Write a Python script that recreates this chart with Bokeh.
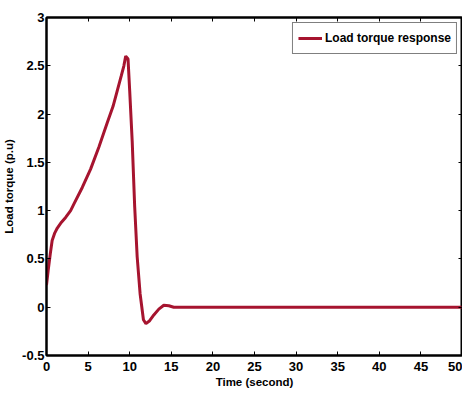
from bokeh.plotting import figure
from bokeh.models import FixedTicker, LinearAxis, Range1d, Legend, LegendItem
from bokeh.embed import file_html
from bokeh.resources import INLINE

# --- data ---
time_s = [0.0, 0.2, 0.45, 0.68, 1.0, 1.3, 1.8, 2.3, 2.9, 3.3, 4.3, 5.3, 6.3, 7.3, 8.0, 8.5,
          9.0, 9.3, 9.52, 9.8, 10.0, 10.3, 10.6, 10.9, 11.25, 11.65, 11.95, 12.4, 12.9,
          13.5, 14.1, 14.7, 15.3, 20.0, 30.0, 40.0, 50.0]
load_torque = [0.23, 0.38, 0.55, 0.69, 0.77, 0.82, 0.88, 0.93, 1.00, 1.07, 1.24, 1.43, 1.66,
               1.91, 2.08, 2.24, 2.40, 2.50, 2.60, 2.57, 2.24, 1.72, 1.04, 0.52, 0.14, -0.13,
               -0.17, -0.14, -0.08, -0.02, 0.02, 0.015, 0.0, 0.0, 0.0, 0.0, 0.0]
x_ticks = [0, 5, 10, 15, 20, 25, 30, 35, 40, 45, 50]
x_tick_labels = ["0", "5", "10", "15", "20", "25", "30", "35", "40", "45", "50"]
y_ticks = [-0.5, 0, 0.5, 1, 1.5, 2, 2.5, 3]
y_tick_labels = ["-0.5", "0", "0.5", "1", "1.5", "2", "2.5", "3"]
series_name = "Load torque response"
x_title = "Time (second)"
y_title = "Load torque (p.u)"

FONT = "Liberation Sans"
LINE_COLOR = "#A6142F"

p = figure(width=462, height=394, output_backend="svg", toolbar_location=None,
           x_range=Range1d(0, 50), y_range=Range1d(-0.5, 3),
           min_border_left=46, min_border_right=0, min_border_top=17, min_border_bottom=39,
           x_axis_label=x_title, y_axis_label=y_title)
p.background_fill_color = "white"
p.border_fill_color = "white"
p.outline_line_color = "black"
p.outline_line_width = 2
p.xgrid.visible = False
p.ygrid.visible = False

r = p.line(time_s, load_torque, line_color=LINE_COLOR, line_width=3)

def style_axis(ax, ticks, labels, show_labels=True):
    ax.ticker = FixedTicker(ticks=ticks)
    ax.major_tick_in = 4
    ax.major_tick_out = 0
    ax.minor_tick_in = 0
    ax.minor_tick_out = 0
    ax.axis_line_color = "black"
    ax.axis_line_width = 2
    ax.major_tick_line_color = "black"
    ax.major_tick_line_width = 1
    ax.major_label_text_font = FONT
    ax.major_label_text_font_style = "bold"
    ax.major_label_text_color = "black"
    ax.axis_label_text_font = FONT
    ax.axis_label_text_font_style = "bold"
    ax.axis_label_text_font_size = "11.5px"
    ax.axis_label_text_color = "black"
    if show_labels:
        ax.major_label_overrides = {t: l for t, l in zip(ticks, labels)}
        ax.major_label_text_font_size = "13px"
    else:
        ax.major_label_overrides = {t: "" for t in ticks}
        ax.major_label_text_font_size = "0px"
        ax.major_label_standoff = 0

style_axis(p.xaxis[0], x_ticks, x_tick_labels)
style_axis(p.yaxis[0], y_ticks, y_tick_labels)
p.xaxis[0].major_label_standoff = 6
p.xaxis[0].axis_label_standoff = 2
p.yaxis[0].major_label_standoff = 2
p.yaxis[0].axis_label_standoff = 4

top_axis = LinearAxis()
style_axis(top_axis, x_ticks, x_tick_labels, show_labels=False)
p.add_layout(top_axis, "above")

right_axis = LinearAxis()
style_axis(right_axis, y_ticks, y_tick_labels, show_labels=False)
p.add_layout(right_axis, "right")

legend = Legend(items=[LegendItem(label=series_name, renderers=[r])],
                location="top_right")
legend.border_line_color = "black"
legend.border_line_width = 1
legend.background_fill_color = "white"
legend.background_fill_alpha = 1
legend.label_text_font = FONT
legend.label_text_font_style = "bold"
legend.label_text_font_size = "12px"
legend.label_text_color = "black"
legend.glyph_width = 24
legend.glyph_height = 20
legend.label_height = 20
legend.label_standoff = 3
legend.padding = 5
legend.margin = 5
legend.spacing = 0
p.add_layout(legend)

open("out.html", "w").write(file_html(p, INLINE))
